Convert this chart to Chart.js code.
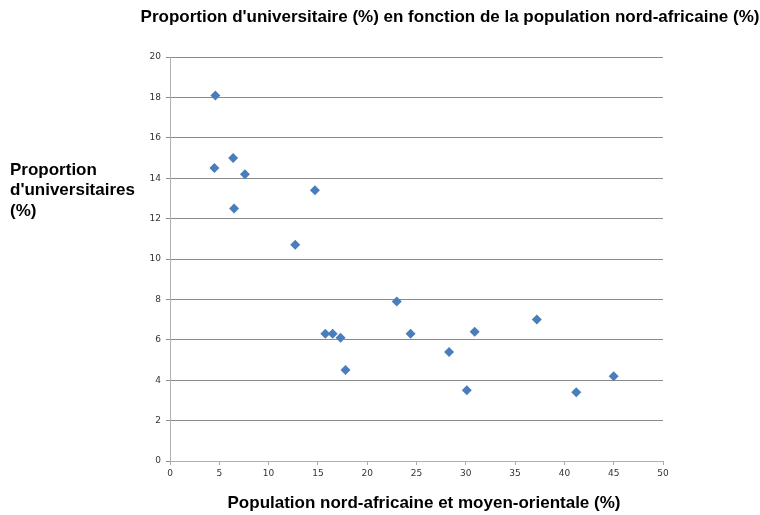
<!DOCTYPE html>
<html><head><meta charset="utf-8">
<script src="https://cdn.jsdelivr.net/npm/chart.js@4"></script>
<style>html,body{margin:0;padding:0;background:#fff}#wrap{width:760px;height:515px;position:relative}</style>
</head><body><div id="wrap"><canvas id="c" width="760" height="515"></canvas></div>
<script>
const xValues = [4.6, 4.5, 6.4, 7.6, 6.5, 14.7, 12.7, 15.75, 16.5, 17.3, 17.8, 23.0, 24.4, 28.3, 30.1, 30.9, 37.2, 41.2, 45.0];
const yValues = [18.1, 14.5, 15.0, 14.2, 12.5, 13.4, 10.7, 6.3, 6.3, 6.1, 4.5, 7.9, 6.3, 5.4, 3.5, 6.4, 7.0, 3.4, 4.2];
const chartTitle = "Proportion d'universitaire (%) en fonction de la population nord-africaine (%)";
const xTitle = "Population nord-africaine et moyen-orientale (%)";
const yTitleLines = ["Proportion", "d'universitaires", "(%)"];

const points = xValues.map((x, i) => ({x: x, y: yValues[i]}));
const FONT = '"Liberation Sans", Arial, sans-serif';

const textPlugin = {
  id: 'texts',
  afterDraw(chart) {
    const ctx = chart.ctx;
    ctx.save();
    ctx.fillStyle = '#000';
    ctx.textBaseline = 'middle';
    ctx.font = 'bold 17px ' + FONT;
    ctx.textAlign = 'center';
    ctx.fillText(chartTitle, 450, 17);
    ctx.fillText(xTitle, 424, 503);
    ctx.textAlign = 'left';
    yTitleLines.forEach((l, i) => ctx.fillText(l, 10, 170 + i * 20.5));
    ctx.restore();
  }
};

new Chart(document.getElementById('c'), {
  type: 'scatter',
  data: { datasets: [{ data: points, pointStyle: 'rectRot', pointRadius: 5, pointHoverRadius: 5,
    backgroundColor: '#4A7EBB', borderColor: '#4A7EBB', borderWidth: 0 }] },
  options: {
    responsive: false, animation: false,
    layout: { padding: { left: 0, right: 97, top: 57, bottom: 0 } },
    plugins: { legend: { display: false }, tooltip: { enabled: false }, title: { display: false } },
    scales: {
      x: { type: 'linear', min: 0, max: 50,
        afterFit(s) { s.height = 54; },
        ticks: { stepSize: 5, color: '#333', font: { family: '"DejaVu Sans", sans-serif', size: 9 }, padding: 3 },
        grid: { display: true, drawOnChartArea: false, drawTicks: true, tickLength: 4, color: '#aaa' },
        border: { color: '#b0b0b0' } },
      y: { min: 0, max: 20,
        afterFit(s) { s.width = 170; },
        ticks: { stepSize: 2, color: '#333', font: { family: '"DejaVu Sans", sans-serif', size: 9 }, padding: 5 },
        grid: { color: '#8a8a8a', tickLength: 4, drawTicks: true },
        border: { color: '#b0b0b0' } }
    }
  },
  plugins: [textPlugin]
});
</script></body></html>
